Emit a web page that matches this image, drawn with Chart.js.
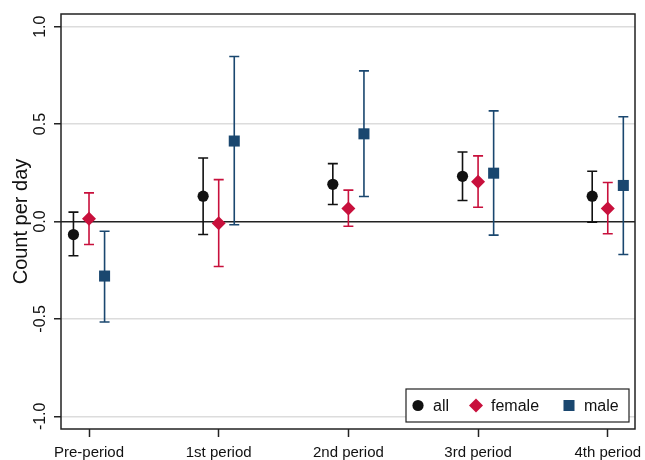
<!DOCTYPE html>
<html>
<head>
<meta charset="utf-8">
<script src="https://cdn.jsdelivr.net/npm/chart.js@4/dist/chart.umd.min.js"></script>
<style>
  html, body { margin: 0; padding: 0; background: #fff; }
  #wrap { width: 645px; height: 460px; }
</style>
</head>
<body>
<div id="wrap"><canvas id="chart" width="645" height="460"></canvas></div>
<script>
const CATEGORIES = ["Pre-period", "1st period", "2nd period", "3rd period", "4th period"];
const Y_TICKS = [-1.0, -0.5, 0.0, 0.5, 1.0];
const SERIES_NAMES = ["all", "female", "male"];

const ALL_EST = [-0.067, 0.13, 0.191, 0.232, 0.13];
const ALL_LO = [-0.176, -0.067, 0.087, 0.108, -0.003];
const ALL_HI = [0.048, 0.326, 0.297, 0.357, 0.258];

const FEMALE_EST = [0.014, -0.009, 0.067, 0.204, 0.067];
const FEMALE_LO = [-0.118, -0.231, -0.024, 0.073, -0.063];
const FEMALE_HI = [0.147, 0.215, 0.161, 0.337, 0.2];

const MALE_EST = [-0.28, 0.413, 0.45, 0.248, 0.185];
const MALE_LO = [-0.516, -0.017, 0.128, -0.07, -0.169];
const MALE_HI = [-0.05, 0.847, 0.773, 0.568, 0.538];

const BLACK = "#111111";
const CRANBERRY = "#c8103c";
const NAVY = "#1a476f";
const FONT = "'Liberation Sans', Arial, sans-serif";

// horizontal dodge of the three groups, in category units
const DODGE = [-0.12, 0, 0.12];

const mkData = (est, lo, hi, k) =>
  est.map((v, i) => ({ x: i + DODGE[k], y: v, lo: lo[i], hi: hi[i] }));

const styles = [
  { color: BLACK, pointStyle: "circle", radius: 5.6 },
  { color: CRANBERRY, pointStyle: "rectRot", radius: 7 },
  { color: NAVY, pointStyle: "rect", radius: 7.8 },
];

const datasets = [
  [ALL_EST, ALL_LO, ALL_HI],
  [FEMALE_EST, FEMALE_LO, FEMALE_HI],
  [MALE_EST, MALE_LO, MALE_HI],
].map(([e, l, h], k) => ({
  label: SERIES_NAMES[k],
  data: mkData(e, l, h, k),
  showLine: false,
  pointStyle: styles[k].pointStyle,
  pointRadius: styles[k].radius,
  pointHoverRadius: styles[k].radius,
  pointBackgroundColor: styles[k].color,
  pointBorderColor: styles[k].color,
  pointBorderWidth: 0,
}));

// error bars, drawn under markers
const errorBars = {
  id: "errorBars",
  beforeDatasetsDraw(chart) {
    const { ctx } = chart;
    const ys = chart.scales.y;
    chart.data.datasets.forEach((ds, k) => {
      const meta = chart.getDatasetMeta(k);
      ctx.save();
      ctx.strokeStyle = styles[k].color;
      ctx.lineWidth = 1.6;
      meta.data.forEach((pt, i) => {
        const raw = ds.data[i];
        const x = pt.x;
        const y1 = ys.getPixelForValue(raw.hi);
        const y2 = ys.getPixelForValue(raw.lo);
        ctx.beginPath();
        ctx.moveTo(x, y1); ctx.lineTo(x, y2);
        ctx.moveTo(x - 5, y1); ctx.lineTo(x + 5, y1);
        ctx.moveTo(x - 5, y2); ctx.lineTo(x + 5, y2);
        ctx.stroke();
      });
      ctx.restore();
    });
  },
};

const drawMarker = (ctx, style, x, y) => {
  ctx.fillStyle = style.color;
  ctx.beginPath();
  const r = style.radius;
  if (style.pointStyle === "circle") {
    ctx.arc(x, y, r, 0, Math.PI * 2);
  } else if (style.pointStyle === "rectRot") {
    ctx.moveTo(x - r, y); ctx.lineTo(x, y - r); ctx.lineTo(x + r, y); ctx.lineTo(x, y + r);
    ctx.closePath();
  } else {
    const s = r * Math.SQRT1_2;
    ctx.rect(x - s, y - s, 2 * s, 2 * s);
  }
  ctx.fill();
};

// frame, rotated y labels, axis title and the in-plot legend
const decorations = {
  id: "decorations",
  afterDraw(chart) {
    const { ctx, chartArea: a } = chart;
    const ys = chart.scales.y;
    ctx.save();
    // frame
    ctx.strokeStyle = "#222";
    ctx.lineWidth = 1.5;
    ctx.strokeRect(a.left, a.top, a.right - a.left, a.bottom - a.top);

    // y tick labels (Stata style, rotated)
    ctx.fillStyle = "#111";
    ctx.font = "16px " + FONT;
    ctx.textAlign = "center";
    ctx.textBaseline = "middle";
    Y_TICKS.forEach((v) => {
      const y = ys.getPixelForValue(v);
      ctx.save();
      ctx.translate(a.left - 20, y);
      ctx.rotate(-Math.PI / 2);
      ctx.fillText(v.toFixed(1), 0, 0);
      ctx.restore();
    });

    // y title
    ctx.save();
    ctx.font = "20px " + FONT;
    ctx.translate(21, (a.top + a.bottom) / 2);
    ctx.rotate(-Math.PI / 2);
    ctx.fillText("Count per day", 0, 0);
    ctx.restore();

    // legend
    const lx = a.right - 229, ly = a.bottom - 40, lw = 223, lh = 33;
    ctx.fillStyle = "#fff";
    ctx.fillRect(lx, ly, lw, lh);
    ctx.strokeStyle = "#222";
    ctx.lineWidth = 1.2;
    ctx.strokeRect(lx, ly, lw, lh);
    const cy = ly + lh / 2;
    const markX = [12, 70, 163];
    ctx.font = "16px " + FONT;
    ctx.textAlign = "left";
    SERIES_NAMES.forEach((name, k) => {
      drawMarker(ctx, styles[k], lx + markX[k], cy);
      ctx.fillStyle = "#111";
      ctx.fillText(name, lx + markX[k] + 15, cy + 1);
    });
    ctx.restore();
  },
};

new Chart(document.getElementById("chart").getContext("2d"), {
  type: "scatter",
  data: { datasets },
  options: {
    responsive: false,
    animation: false,
    events: [],
    layout: { padding: { top: 14, right: 10, left: 0, bottom: 0 } },
    plugins: { legend: { display: false }, tooltip: { enabled: false } },
    scales: {
      x: {
        type: "linear",
        min: -0.216,
        max: 4.21,
        afterBuildTicks: (s) => { s.ticks = CATEGORIES.map((c, i) => ({ value: i })); },
        afterFit: (s) => { s.height = 31; s.paddingLeft = 0; s.paddingRight = 0; },
        ticks: {
          callback: (v) => CATEGORIES[v] ?? "",
          color: "#111",
          font: { family: FONT, size: 15 },
          padding: 7,
          maxRotation: 0,
          autoSkip: false,
        },
        grid: { drawOnChartArea: false, drawTicks: true, tickLength: 8, tickColor: "#222", tickWidth: 1.5 },
        border: { display: false },
      },
      y: {
        min: -1.065,
        max: 1.065,
        afterBuildTicks: (s) => { s.ticks = Y_TICKS.map((v) => ({ value: v })); },
        afterFit: (s) => { s.width = 61; },
        ticks: { display: false },
        grid: {
          color: (c) => (c.tick && c.tick.value === 0 ? "#222" : "#dcdcdc"),
          lineWidth: (c) => (c.tick && c.tick.value === 0 ? 1.6 : 1.5),
          drawTicks: true,
          tickLength: 7,
          tickColor: "#222",
          tickWidth: 1.5,
        },
        border: { display: false },
      },
    },
  },
  plugins: [errorBars, decorations],
});
</script>
</body>
</html>
